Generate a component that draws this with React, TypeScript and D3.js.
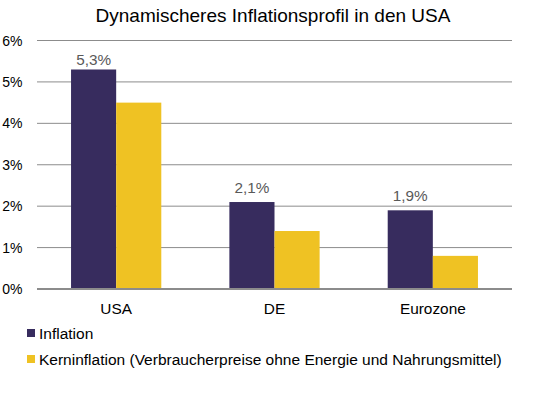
import React from "react";
import * as d3 from "d3";

const categories = ["USA", "DE", "Eurozone"];
const seriesNames = ["Inflation", "Kerninflation (Verbraucherpreise ohne Energie und Nahrungsmittel)"];
const inflation = [5.3, 2.1, 1.9];
const coreInflation = [4.5, 1.4, 0.8];
const yTicks = [0, 1, 2, 3, 4, 5, 6];
const colors = ["#372c5e", "#efc223"];

export default function App() {
  const width = 533,
    height = 396;
  const left = 37,
    right = 512,
    top = 40.5,
    bottom = 289;

  const x = d3
    .scaleBand<string>()
    .domain(categories)
    .range([left, right])
    .paddingInner(0.43)
    .paddingOuter(0.215);
  const x1 = d3.scaleBand<number>().domain([0, 1]).range([0, x.bandwidth()]);
  const y = d3.scaleLinear().domain([0, 6]).range([bottom, top]);
  const fmt = (v: number) => d3.format(".1f")(v).replace(".", ",") + "%";

  const font = "'Liberation Sans', Arial, sans-serif";

  return (
    <svg
      width={width}
      height={height}
      style={{ position: "absolute", left: 0, top: 0, background: "#fff" }}
      fontFamily={font}
    >
      <text x={273} y={22} textAnchor="middle" fontSize={19} fill="#000">
        Dynamischeres Inflationsprofil in den USA
      </text>

      {yTicks.map((t) => (
        <g key={t}>
          {t > 0 && (
            <line x1={left} x2={right} y1={y(t)} y2={y(t)} stroke="#8c8c8c" strokeWidth={1} />
          )}
          <text x={22.5} y={y(t) + 5} textAnchor="end" fontSize={14} fill="#000">
            {t}%
          </text>
        </g>
      ))}

      {categories.map((c, i) => (
        <g key={c}>
          {[inflation[i], coreInflation[i]].map((v, s) => (
            <rect
              key={s}
              x={x(c)! + x1(s)!}
              y={y(v)}
              width={x1.bandwidth()}
              height={y(0) - y(v)}
              fill={colors[s]}
            />
          ))}
          <text
            x={x(c)! + x1(0)! + x1.bandwidth() / 2}
            y={y(inflation[i]) - (i === 0 ? 4.5 : 9)}
            textAnchor="middle"
            fontSize={15.3}
            fill="#595959"
          >
            {fmt(inflation[i])}
          </text>
          <text x={x(c)! + x.bandwidth() / 2} y={313.5} textAnchor="middle" fontSize={15.4} fill="#000">
            {c}
          </text>
        </g>
      ))}

      <line x1={left} x2={right} y1={y(0)} y2={y(0)} stroke="#8c8c8c" strokeWidth={2} />

      {seriesNames.map((n, i) => (
        <g key={n} transform={`translate(27, ${329 + i * 26})`}>
          <rect x={0} y={0} width={8} height={8} fill={colors[i]} />
          <text x={12} y={9.5} fontSize={15.5} fill="#000">
            {n}
          </text>
        </g>
      ))}
    </svg>
  );
}
